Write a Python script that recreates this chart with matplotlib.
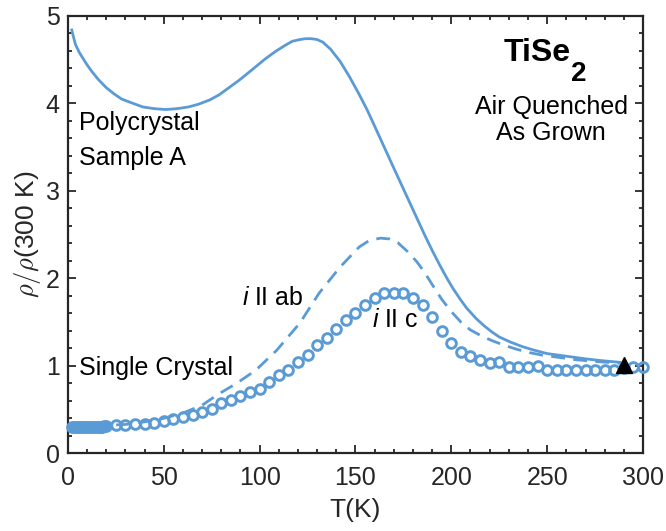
import matplotlib
matplotlib.use("Agg")
import matplotlib.pyplot as plt
from matplotlib.ticker import MultipleLocator

plt.rcParams['font.family'] = ['Liberation Sans', 'DejaVu Sans']
plt.rcParams['mathtext.fontset'] = 'custom'
plt.rcParams['mathtext.it'] = 'Liberation Sans:italic'
plt.rcParams['mathtext.rm'] = 'Liberation Sans'

# Polycrystal sample A (solid line)
T_poly = [2, 3, 4, 6, 8, 10, 13, 16, 20, 24, 28, 34, 39, 45, 51, 57, 63, 68, 74, 79,
          84, 89, 93, 98, 103, 108, 113, 117, 121, 124, 127, 130, 133, 137, 142, 147,
          152, 156, 160, 165, 170, 174, 178, 182, 186, 190, 194, 198, 201, 205, 208,
          213, 217, 221, 225, 231, 237, 243, 250, 260, 270, 278, 288]
r_poly = [4.84, 4.75, 4.67, 4.58, 4.51, 4.44, 4.35, 4.27, 4.18, 4.11, 4.05, 4.00, 3.96,
          3.94, 3.93, 3.94, 3.96, 3.99, 4.04, 4.10, 4.18, 4.26, 4.33, 4.42, 4.51, 4.59,
          4.66, 4.71, 4.73, 4.74, 4.74, 4.73, 4.70, 4.62, 4.48, 4.30, 4.10, 3.93, 3.74,
          3.50, 3.26, 3.07, 2.88, 2.69, 2.50, 2.32, 2.15, 1.99, 1.88, 1.75, 1.66, 1.54,
          1.46, 1.39, 1.33, 1.27, 1.22, 1.18, 1.14, 1.11, 1.08, 1.06, 1.04]

# Single crystal, i || ab (dashed line)
T_ab = [2, 10, 20, 30, 40, 50, 60, 70, 78, 88, 98, 109, 121, 131, 142, 152, 157, 163,
        168, 172, 177, 182, 186, 190, 195, 200, 205, 210, 215, 221, 227, 234, 241,
        248, 255, 265, 275, 288]
r_ab = [0.31, 0.31, 0.32, 0.33, 0.36, 0.40, 0.46, 0.55, 0.67, 0.80, 0.95, 1.18, 1.49,
        1.83, 2.13, 2.36, 2.43, 2.46, 2.45, 2.41, 2.31, 2.19, 2.07, 1.93, 1.76, 1.62,
        1.50, 1.41, 1.35, 1.29, 1.24, 1.19, 1.15, 1.12, 1.10, 1.07, 1.05, 1.03]

# Single crystal, i || c (open circles)
T_c = [2, 3, 4, 5, 6, 7, 8, 9, 10, 11, 12, 13, 14, 15, 16, 17, 18, 19, 20,
       25, 30, 35, 40, 45, 50, 55, 60, 65, 70, 75, 80, 85, 90, 95, 100, 105, 110,
       115, 120, 125, 130, 135, 140, 145, 150, 155, 160, 165, 170, 175, 180, 185,
       190, 195, 200, 205, 210, 215, 220, 225, 230, 235, 240, 245, 250, 255, 260,
       265, 270, 275, 280, 285, 290, 295, 300]
r_c = [0.30, 0.30, 0.30, 0.30, 0.30, 0.30, 0.30, 0.30, 0.30, 0.30, 0.30, 0.30, 0.30,
       0.30, 0.30, 0.30, 0.30, 0.31, 0.31,
       0.32, 0.32, 0.33, 0.34, 0.35, 0.37, 0.39, 0.41, 0.44, 0.47, 0.51, 0.57, 0.61,
       0.66, 0.70, 0.74, 0.81, 0.89, 0.95, 1.04, 1.12, 1.24, 1.32, 1.42, 1.52, 1.60,
       1.70, 1.77, 1.83, 1.83, 1.83, 1.78, 1.70, 1.56, 1.40, 1.26, 1.16, 1.11, 1.07,
       1.03, 1.04, 0.99, 0.99, 0.99, 1.00, 0.95, 0.95, 0.95, 0.95, 0.95, 0.95, 0.95,
       0.95, 0.98, 0.99, 0.99]

# Reference point
T_ref = [290]
r_ref = [1.01]

blue = '#5b9bd5'
dark = '#262626'

fig = plt.figure(figsize=(6.66, 5.31), dpi=100)
ax = fig.add_axes([0.102, 0.1463, 0.8635, 0.8237])

ax.plot(T_poly, r_poly, '-', color=blue, lw=2.0, zorder=3)
ax.plot(T_ab, r_ab, '--', color=blue, lw=2.0, dashes=(5, 3), zorder=3)
ax.plot(T_c, r_c, 'o', color=blue, ms=7, mew=2.1, mfc='none', zorder=4,
        clip_on=False)
ax.plot(T_ref, r_ref, '^', color='black', ms=11, zorder=5)

ax.set_xlim(0, 300)
ax.set_ylim(0, 5)
ax.xaxis.set_major_locator(MultipleLocator(50))
ax.xaxis.set_minor_locator(MultipleLocator(10))
ax.yaxis.set_major_locator(MultipleLocator(1))
ax.yaxis.set_minor_locator(MultipleLocator(0.2))
ax.tick_params(which='both', direction='in', top=True, right=True, colors=dark,
               width=1.3)
ax.tick_params(which='major', length=6, labelsize=18)
ax.tick_params(axis='x', which='major', pad=9)
ax.tick_params(axis='y', which='major', pad=6)
ax.tick_params(which='minor', length=3)
for sp in ax.spines.values():
    sp.set_linewidth(1.6)
    sp.set_color(dark)

ax.set_xlabel('T(K)', fontsize=19, color=dark, labelpad=6)
ax.set_ylabel(r'$\rho/\rho$(300 K)', fontsize=19, color=dark, labelpad=2,
              math_fontfamily='cm')

fs = 18
ax.text(5.7, 3.78, 'Polycrystal', fontsize=fs, va='center', ha='left')
ax.text(5.7, 3.38, 'Sample A', fontsize=fs, va='center', ha='left')
ax.text(5.7, 0.98, 'Single Crystal', fontsize=fs, va='center', ha='left')
ax.text(90.6, 1.77, r'$i$ II ab', fontsize=fs, va='center', ha='left')
ax.text(158.4, 1.52, r'$i$ II c', fontsize=fs, va='center', ha='left')
ax.text(252, 3.96, 'Air Quenched', fontsize=fs, va='center', ha='center')
ax.text(252, 3.66, 'As Grown', fontsize=fs, va='center', ha='center')
t = ax.text(245, 4.58, 'TiSe', fontsize=23, fontweight='bold', va='center', ha='center')
ax.annotate('2', xy=(1.0, 0.22), xycoords=t, fontsize=20, fontweight='bold',
            va='top', ha='left')

fig.savefig('out.png', dpi=100)
